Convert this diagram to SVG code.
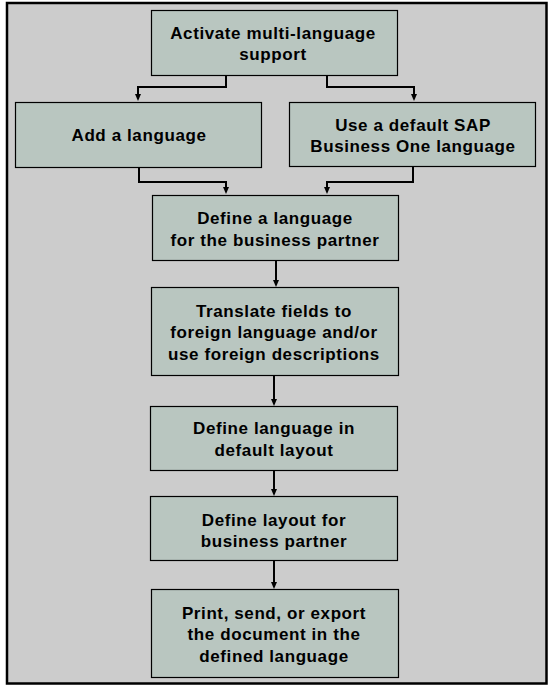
<svg xmlns="http://www.w3.org/2000/svg" width="554" height="691" viewBox="0 0 554 691">
<style>
.bg{fill:#cccccc;stroke:#000;stroke-width:2.5}
.box{fill:#b9c6c0;stroke:#000;stroke-width:1.2}
.t{font-family:"Liberation Sans",Arial,sans-serif;font-weight:bold;font-size:17px;letter-spacing:0.6px;fill:#000;text-anchor:middle}
.c{fill:none;stroke:#000;stroke-width:2}
</style>
<rect class="bg" x="7" y="3" width="539.5" height="680.5"/>
<g id="n1"><rect class="box" x="151.5" y="10.5" width="246" height="65"/>
<text class="t" x="273" y="39">Activate multi-language</text><text class="t" x="273" y="60">support</text></g>
<g id="n2"><rect class="box" x="15.5" y="102.5" width="246" height="65"/>
<text class="t" x="139" y="141">Add a language</text></g>
<g id="n3"><rect class="box" x="289.5" y="102.5" width="246" height="64"/>
<text class="t" x="413" y="131">Use a default SAP</text><text class="t" x="413" y="152">Business One language</text></g>
<g id="n4"><rect class="box" x="152.5" y="195.5" width="246" height="65"/>
<text class="t" x="275" y="224">Define a language</text><text class="t" x="275" y="246">for the business partner</text></g>
<g id="n5"><rect class="box" x="151.5" y="287.5" width="247" height="88"/>
<text class="t" x="274" y="317">Translate fields to</text><text class="t" x="274" y="338">foreign language and/or</text><text class="t" x="274" y="360">use foreign descriptions</text></g>
<g id="n6"><rect class="box" x="150.5" y="406.5" width="247" height="64"/>
<text class="t" x="274" y="434">Define language in</text><text class="t" x="274" y="456">default layout</text></g>
<g id="n7"><rect class="box" x="150.5" y="496.5" width="247" height="64"/>
<text class="t" x="274" y="526">Define layout for</text><text class="t" x="274" y="547">business partner</text></g>
<g id="n8"><rect class="box" x="151.5" y="589.5" width="247" height="88"/>
<text class="t" x="274" y="619">Print, send, or export</text><text class="t" x="274" y="640">the document in the</text><text class="t" x="274" y="662">defined language</text></g>
<g id="connectors">
<path class="c" d="M226,76 V87 H138 V95"/>
<path class="c" d="M327,76 V87 H414 V95"/>
<path class="c" d="M139,168 V182 H226 V188"/>
<path class="c" d="M413,167 V182 H327 V188"/>
<path class="c" d="M276,261 V281"/>
<path class="c" d="M274,376 V400"/>
<path class="c" d="M274,471 V490"/>
<path class="c" d="M274,561 V583"/>
<g fill="#000">
<polygon points="135,94 141,94 138,101"/>
<polygon points="411,94 417,94 414,101"/>
<polygon points="223,187 229,187 226,194"/>
<polygon points="324,187 330,187 327,194"/>
<polygon points="273,280 279,280 276,287"/>
<polygon points="271,399 277,399 274,406"/>
<polygon points="271,489 277,489 274,496"/>
<polygon points="271,582 277,582 274,589"/>
</g>
</g>
</svg>
